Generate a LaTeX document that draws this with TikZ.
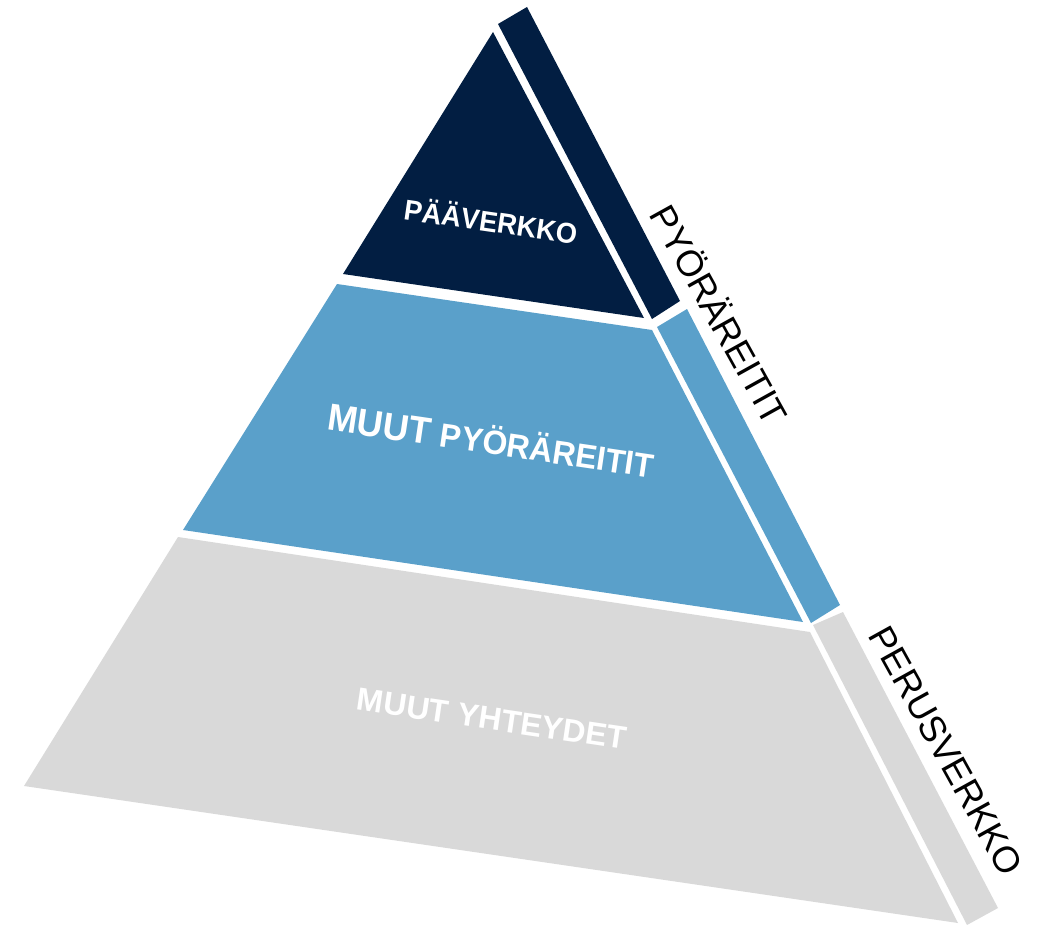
\documentclass[tikz,border=0pt]{standalone}
\usepackage{fontspec}
\setmainfont{Liberation Sans}
\definecolor{navy}{RGB}{2,30,66}
\definecolor{midblue}{RGB}{90,160,202}
\definecolor{lgray}{RGB}{217,217,217}
\begin{document}
\begin{tikzpicture}[x=1pt,y=-1pt,
  frontlbl/.style={inner sep=0pt,text=white,font=\bfseries},
  sidelbl/.style={inner sep=0pt,text=black,rotate=-61,font=\fontsize{36.5}{40}\selectfont}]
\useasboundingbox (0,0) rectangle (1038,925);
% front faces
\fill[navy] (493,32) -- (644,318) -- (343,274) -- cycle;
\fill[midblue] (337,284) -- (652,330) -- (803,622) -- (183,530) -- cycle;
\fill[lgray] (178,537) -- (810,632) -- (958,923) -- (24,786) -- cycle;
% side strips
\fill[navy] (498,24) -- (527,7) -- (680,301) -- (652,319) -- cycle;
\fill[midblue] (657,327) -- (687,309) -- (840,605) -- (811,623) -- cycle;
\fill[lgray] (813,625) -- (843,612) -- (998,908) -- (967,925) -- cycle;
% labels
\node[frontlbl,rotate=-8.3,font=\bfseries\fontsize{27.3}{31}\selectfont] (paa) at (491,220) {\scalebox{1}[1.05]{PÄÄVERKKO}};
\node[frontlbl,rotate=-8.4] (muut) at (491,440) {\scalebox{1}[1.05]{\fontsize{36}{40}\selectfont MUUT \fontsize{32}{36}\selectfont PYÖRÄREITIT}};
\node[frontlbl,rotate=-8.4,font=\bfseries\fontsize{32}{36}\selectfont] (yht) at (492,719) {MUUT YHTEYDET};
\node[sidelbl] (pyo) at (721,314) {PYÖRÄREITIT};
\node[sidelbl] (per) at (946,751) {PERUSVERKKO};
\end{tikzpicture}
\end{document}
